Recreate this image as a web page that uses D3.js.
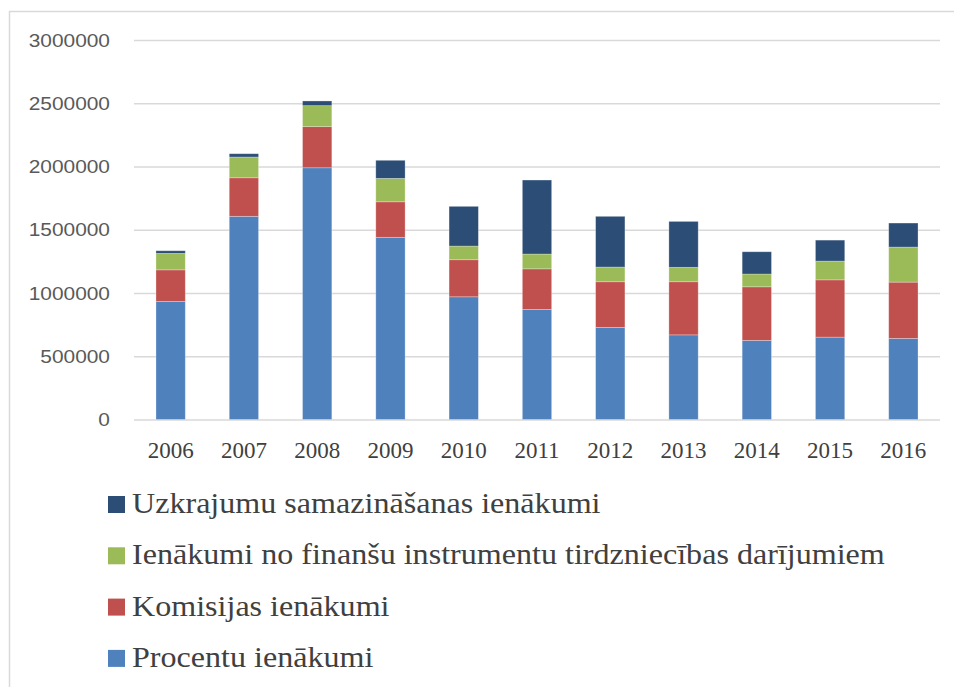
<!DOCTYPE html>
<html>
<meta charset="utf-8">
<style>
body { margin: 0; background: #fff; }
.grid line { stroke: #d9d9d9; stroke-width: 1.5px; }
.grid path { display: none; }
</style>
<body>
<script src="https://cdnjs.cloudflare.com/ajax/libs/d3/7.8.5/d3.min.js"></script>
<script>

// data
var years = ["2006", "2007", "2008", "2009", "2010", "2011", "2012", "2013", "2014", "2015", "2016"];
var procenti  = [933000, 1606000, 1990000, 1440000, 970000, 870000, 728000, 669000, 625000, 651000, 641000];
var komisijas = [250000, 305000, 325000, 281000, 293000, 321000, 361000, 420000, 424000, 453000, 445000];
var finansu   = [130000, 164000, 166000, 185000, 108000, 117000, 116000, 114000, 101000, 148000, 277000];
var uzkrajumu = [21000, 26000, 37000, 143000, 314000, 585000, 401000, 363000, 176000, 166000, 190000];
var yTicks = [0, 500000, 1000000, 1500000, 2000000, 2500000, 3000000];

var seriesKeys = ["procenti", "komisijas", "finansu", "uzkrajumu"];
var seriesNames = {
  procenti: "Procentu ienākumi",
  komisijas: "Komisijas ienākumi",
  finansu: "Ienākumi no finanšu instrumentu tirdzniecības darījumiem",
  uzkrajumu: "Uzkrajumu samazināšanas ienākumi"
};
var colors = { procenti: "#4F81BD", komisijas: "#C0504D", finansu: "#9BBB59", uzkrajumu: "#2C4D75" };

var table = years.map(function(y, i) {
  return { year: y, procenti: procenti[i], komisijas: komisijas[i], finansu: finansu[i], uzkrajumu: uzkrajumu[i] };
});

var W = 954, H = 687;
var plot = { left: 134, right: 940, top: 40, bottom: 419.5 };
var sans = "'Liberation Sans', Arial, sans-serif";
var serif = "'Liberation Serif', 'Times New Roman', serif";

var svg = d3.select("body").append("svg")
    .attr("width", W)
    .attr("height", H);

// outer frame (only top + left visible)
svg.append("path")
    .attr("d", "M9.5," + H + "V11.5H" + W)
    .attr("fill", "none")
    .attr("stroke", "#d9d9d9")
    .attr("stroke-width", 1.5);

var x = d3.scaleBand()
    .domain(years)
    .range([plot.left, plot.right])
    .paddingInner(0.6)
    .paddingOuter(0.3);

var y = d3.scaleLinear()
    .domain([0, 3000000])
    .range([plot.bottom, plot.top]);

// gridlines
svg.append("g")
    .attr("class", "grid")
    .attr("transform", "translate(" + plot.left + ",0)")
    .call(d3.axisLeft(y).tickValues(yTicks).tickSize(-(plot.right - plot.left)).tickFormat(""));

// y labels
var yAxis = svg.append("g")
    .attr("transform", "translate(110,0)")
    .call(d3.axisLeft(y).tickValues(yTicks).tickSize(0).tickPadding(0).tickFormat(d3.format("d")));
yAxis.select(".domain").remove();
yAxis.selectAll("text")
    .attr("x", 0)
    .attr("transform", "scale(1.1,1)")
    .style("font-family", sans)
    .style("font-size", "19px")
    .style("fill", "#595959");

// stacked bars
var stack = d3.stack().keys(seriesKeys)(table);

svg.append("g").selectAll("g")
  .data(stack)
  .join("g")
    .attr("fill", function(d) { return colors[d.key]; })
  .selectAll("rect")
  .data(function(d) { return d; })
  .join("rect")
    .attr("x", function(d) { return x(d.data.year); })
    .attr("y", function(d) { return y(d[1]); })
    .attr("width", x.bandwidth())
    .attr("height", function(d) { return y(d[0]) - y(d[1]); })
    .attr("stroke", "#ffffff")
    .attr("stroke-opacity", 0.35)
    .attr("stroke-width", 0.8);

// x labels
var xAxis = svg.append("g")
    .attr("transform", "translate(0," + plot.bottom + ")")
    .call(d3.axisBottom(x).tickSize(0).tickPadding(22));
xAxis.select(".domain").remove();
xAxis.selectAll("text")
    .style("font-family", serif)
    .style("font-size", "23px")
    .style("fill", "#404040");

// legend
var legendOrder = ["uzkrajumu", "finansu", "komisijas", "procenti"];
var legend = svg.append("g")
  .selectAll("g")
  .data(legendOrder)
  .join("g")
    .attr("transform", function(d, i) { return "translate(108," + (513 + i * 51.3) + ")"; });

legend.append("rect")
    .attr("x", 0)
    .attr("y", -17)
    .attr("width", 17)
    .attr("height", 17)
    .attr("fill", function(d) { return colors[d]; });

legend.append("text")
    .attr("transform", "translate(24,0) scale(1.07,1)")
    .style("font-family", serif)
    .style("font-size", "30px")
    .style("fill", "#404040")
    .text(function(d) { return seriesNames[d]; });

</script>
</body>
</html>
